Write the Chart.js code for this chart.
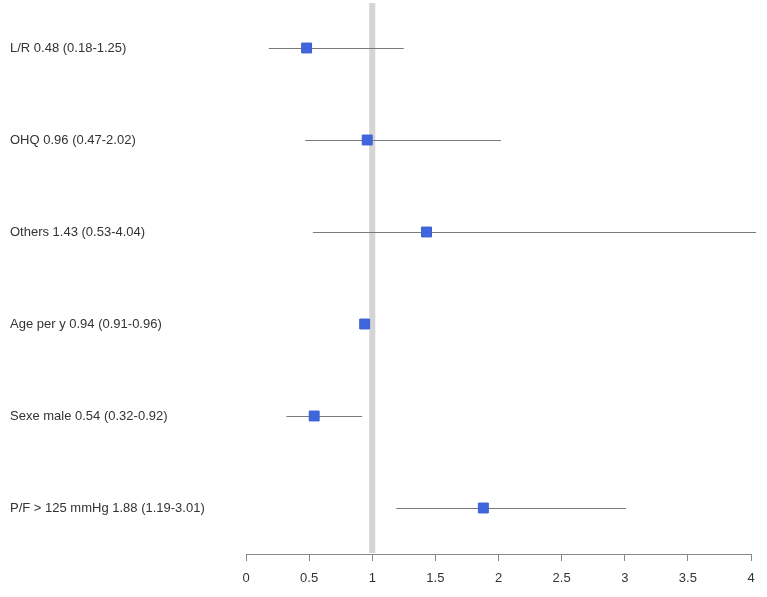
<!DOCTYPE html>
<html>
<head>
<meta charset="utf-8">
<script src="https://cdn.jsdelivr.net/npm/chart.js@4/dist/chart.umd.min.js"></script>
<style>
  html, body { margin: 0; padding: 0; background: #fff; }
  #wrap { width: 767px; height: 597px; }
</style>
</head>
<body>
<div id="wrap"><canvas id="forest"></canvas></div>
<script>
const names = ['L/R', 'OHQ', 'Others', 'Age per y', 'Sexe male', 'P/F > 125 mmHg'];
const oddsRatio = [0.48, 0.96, 1.43, 0.94, 0.54, 1.88];
const ciLow = [0.18, 0.47, 0.53, 0.91, 0.32, 1.19];
const ciHigh = [1.25, 2.02, 4.04, 0.96, 0.92, 3.01];
const xTicks = [0, 0.5, 1, 1.5, 2, 2.5, 3, 3.5, 4];

const rowLabels = names.map((n, i) =>
  n + ' ' + oddsRatio[i].toFixed(2) + ' (' + ciLow[i].toFixed(2) + '-' + ciHigh[i].toFixed(2) + ')');

// reference line at 1 + CI whiskers, drawn through the chart scales
const forestLines = {
  id: 'forestLines',
  beforeDatasetsDraw(chart) {
    const { ctx, chartArea, scales: { x, y } } = chart;
    ctx.save();
    const x1 = x.getPixelForValue(1);
    ctx.fillStyle = '#d4d4d4';
    ctx.fillRect(x1 - 3, chartArea.top + 1, 6, chartArea.bottom - chartArea.top - 2);

    ctx.strokeStyle = '#7a7a7a';
    ctx.lineWidth = 1;
    for (let i = 0; i < oddsRatio.length; i++) {
      const py = Math.round(y.getPixelForValue(i + 1)) + 0.5;
      ctx.beginPath();
      ctx.moveTo(x.getPixelForValue(ciLow[i]), py);
      ctx.lineTo(x.getPixelForValue(ciHigh[i]), py);
      ctx.stroke();
    }
    ctx.restore();
  }
};

new Chart(document.getElementById('forest'), {
  type: 'scatter',
  data: {
    datasets: [{
      data: oddsRatio.map((v, i) => ({ x: v, y: i + 1 })),
      pointStyle: 'rect',
      pointRadius: 7,
      pointHoverRadius: 7,
      backgroundColor: '#3f66dc',
      borderColor: '#3a5fd0',
      borderWidth: 1,
      clip: false
    }]
  },
  options: {
    responsive: true,
    maintainAspectRatio: false,
    animation: false,
    layout: { autoPadding: false, padding: { left: 10, right: 16, top: 2, bottom: 0 } },
    plugins: { legend: { display: false }, tooltip: { enabled: false } },
    scales: {
      x: {
        type: 'linear',
        min: 0,
        max: 4,
        afterBuildTicks: axis => { axis.ticks = xTicks.map(v => ({ value: v })); },
        afterFit: axis => { axis.height = 43; },
        grid: { drawOnChartArea: false, drawTicks: true, tickLength: 7, color: '#888' },
        border: { display: true, color: '#888' },
        ticks: {
          padding: 10,
          color: '#333',
          font: { family: 'Liberation Sans, Arial, sans-serif', size: 13 },
          callback: v => String(v)
        }
      },
      y: {
        type: 'linear',
        min: 0.5,
        max: 6.5,
        reverse: true,
        afterBuildTicks: axis => { axis.ticks = rowLabels.map((_, i) => ({ value: i + 1 })); },
        afterFit: axis => { axis.width = 236; axis.paddingTop = 0; axis.paddingBottom = 0; },
        grid: { display: false },
        border: { display: false },
        ticks: {
          crossAlign: 'far',
          color: '#333',
          font: { family: 'Liberation Sans, Arial, sans-serif', size: 13 },
          callback: v => rowLabels[v - 1]
        }
      }
    }
  },
  plugins: [forestLines]
});
</script>
</body>
</html>
